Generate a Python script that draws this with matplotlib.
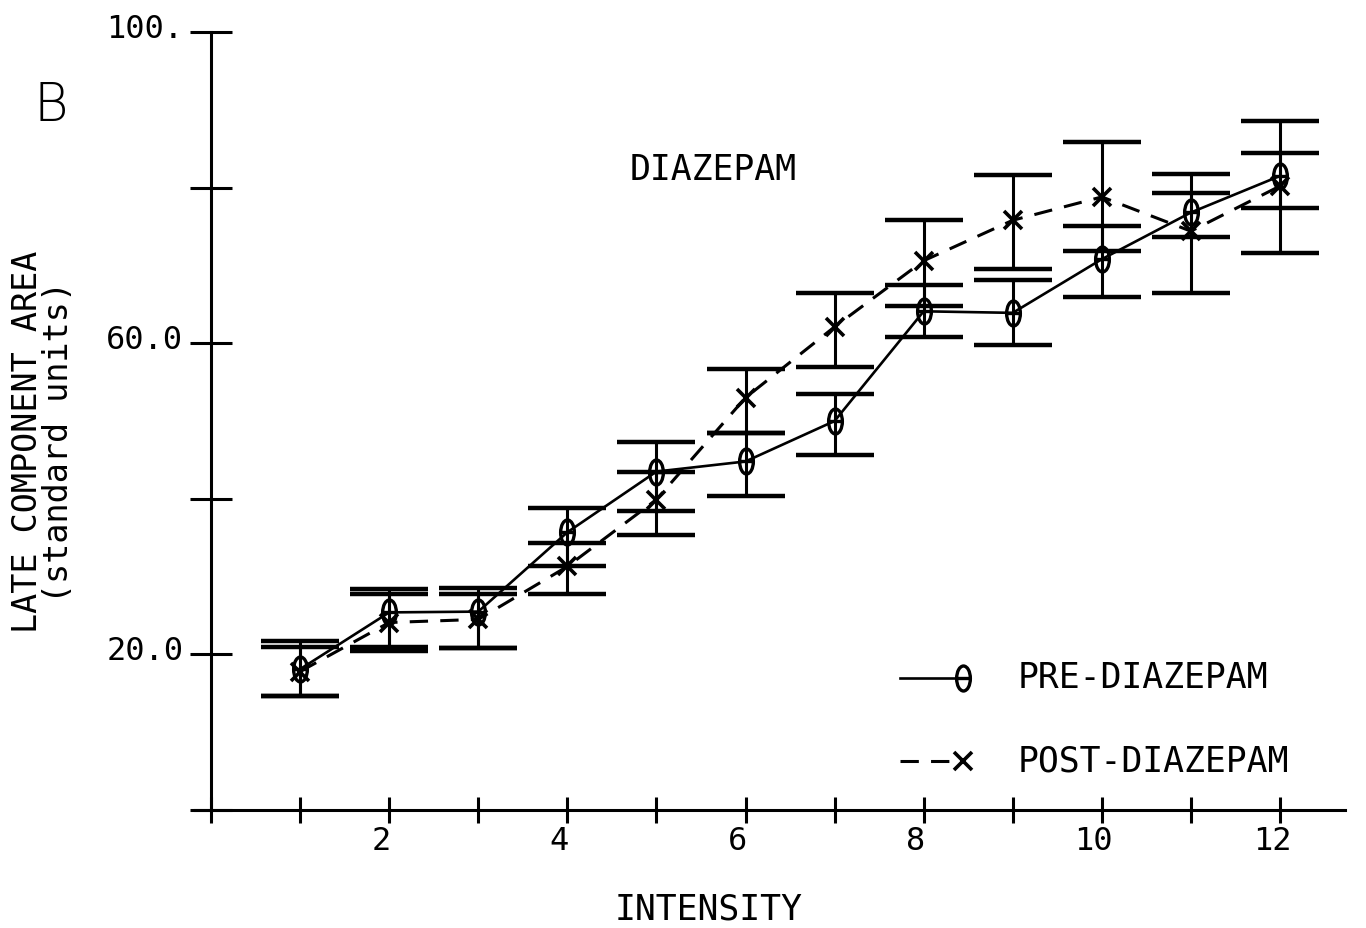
import numpy as np
import matplotlib
matplotlib.use("Agg")
import matplotlib.pyplot as plt
import matplotlib.path as mpath
import matplotlib.transforms as mtrans
from matplotlib.lines import Line2D

# data
intensity = np.arange(1, 13)

pre_mean = [18.1, 25.4, 25.5, 35.7, 43.5, 44.8, 50.0, 64.1, 63.9, 70.8, 76.8, 81.5]
pre_low = [14.6, 21.0, 20.8, 31.3, 38.4, 40.3, 45.6, 60.8, 59.8, 66.0, 73.6, 77.4]
pre_high = [21.7, 28.4, 28.5, 38.8, 47.3, 48.4, 53.5, 67.5, 68.1, 75.1, 79.3, 84.5]

post_mean = [17.8, 24.1, 24.5, 31.3, 39.9, 53.0, 62.1, 70.6, 75.8, 78.8, 74.4, 80.2]
post_low = [14.6, 20.4, 20.8, 27.8, 35.3, 48.4, 56.9, 64.8, 69.6, 71.8, 66.5, 71.6]
post_high = [21.0, 27.7, 27.7, 34.3, 43.4, 56.7, 66.5, 75.8, 81.6, 85.9, 81.7, 88.6]

xticks = list(range(0, 13))
xticklabels = ['' if t % 2 else str(t) for t in xticks]
xticklabels[0] = ''
yticks = [0, 20, 40, 60, 80, 100]
yticklabels = ['', '20.0', '', '60.0', '', '100.']

mono = 'DejaVu Sans Mono'

# "0" marker: tall oval with a bar
circ = mpath.Path.unit_circle()
verts = np.concatenate([circ.vertices * [0.55, 1.0], [[-0.55, 0], [0.55, 0]]])
codes = np.concatenate([circ.codes, [mpath.Path.MOVETO, mpath.Path.LINETO]])
zero_marker = mpath.Path(verts, codes)

fig = plt.figure(figsize=(13.66, 9.29), dpi=100)
W, H = 1366, 929
ax = fig.add_axes([195 / W, (H - 811) / H, (1345 - 195) / W, (811 - 33) / H])
ax.set_xlim(-0.18, 12.73)
ax.set_ylim(0, 100)

pre = np.array(pre_mean)
post = np.array(post_mean)
pre_err = [pre - np.array(pre_low), np.array(pre_high) - pre]
post_err = [post - np.array(post_low), np.array(post_high) - post]

for m, err in [(pre, pre_err), (post, post_err)]:
    ax.errorbar(intensity, m, yerr=err, fmt='none', ecolor='black',
                elinewidth=2.2, capsize=28, capthick=3.2, clip_on=False)

ax.plot(intensity, pre, color='black', lw=1.9, marker=zero_marker, ms=18,
        mfc='none', mec='black', mew=2.4, clip_on=False)
ax.plot(intensity, post, color='black', lw=2.2, dashes=(6, 4), marker='x',
        ms=13, mew=2.6, clip_on=False)

# axes styling
for s in ['top', 'right']:
    ax.spines[s].set_visible(False)
ax.spines['left'].set_position(('data', 0))
ax.spines['left'].set_linewidth(2.2)
ax.spines['bottom'].set_linewidth(2.2)

ax.set_yticks(yticks)
ax.set_yticklabels(yticklabels, fontsize=23, family=mono)
ax.tick_params(axis='y', direction='inout', length=30, width=2.2, pad=5)
ax.set_xticks(xticks)
ax.set_xticklabels(xticklabels, fontsize=23, family=mono)
ax.tick_params(axis='x', direction='inout', length=19, width=2.2, pad=1)

for lab in ax.get_xticklabels():
    lab.set_transform(lab.get_transform() + mtrans.ScaledTranslation(-0.08, 0, fig.dpi_scale_trans))
for lab in ax.get_yticklabels():
    lab.set_transform(lab.get_transform() + mtrans.ScaledTranslation(0, 0.07, fig.dpi_scale_trans))

# texts
fig.text(51 / W, 1 - 106 / H, 'B', fontsize=38, family='DejaVu Sans',
         fontweight='light', ha='center', va='center')
fig.text(43 / W, 1 - 442 / H, 'LATE COMPONENT AREA\n(standard units)', rotation=90,
         fontsize=24, family=mono, ha='center', va='center', linespacing=0.95,
         multialignment='center')
fig.text(713 / W, 1 - 170 / H, 'DIAZEPAM', fontsize=25, family=mono,
         ha='center', va='center')
fig.text(709 / W, 1 - 910 / H, 'INTENSITY', fontsize=25, family=mono,
         ha='center', va='center')

# legend drawn by hand
fig.add_artist(Line2D([900 / W, 960 / W], [1 - 679 / H] * 2, color='black', lw=1.9))
fig.add_artist(Line2D([963 / W], [1 - 679 / H], marker=zero_marker, ms=18,
                      mfc='white', mec='black', mew=2.4))
fig.add_artist(Line2D([900 / W, 958 / W], [1 - 762 / H] * 2, color='black',
                      lw=2.2, dashes=(6, 4)))
fig.add_artist(Line2D([963 / W], [1 - 762 / H], marker='x', ms=13, mew=2.6,
                      color='black'))
fig.text(1018 / W, 1 - 678 / H, 'PRE-DIAZEPAM', fontsize=25, family=mono,
         ha='left', va='center')
fig.text(1018 / W, 1 - 762 / H, 'POST-DIAZEPAM', fontsize=25, family=mono,
         ha='left', va='center')

fig.savefig('out.png', dpi=100)
